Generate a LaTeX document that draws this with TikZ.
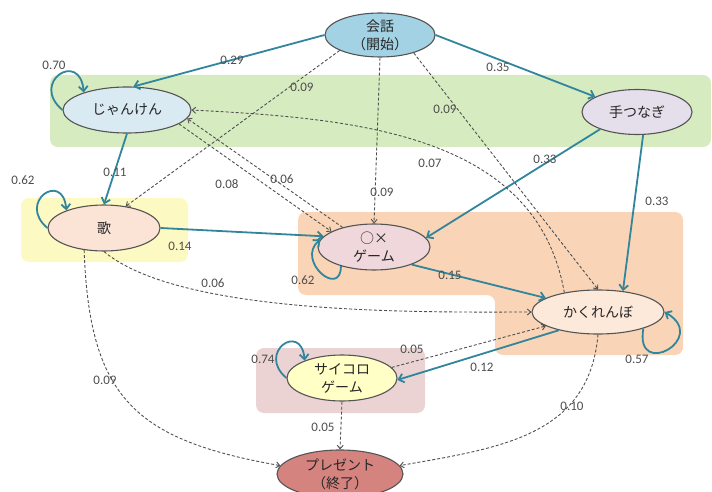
\documentclass[tikz,border=0pt]{standalone}
\usepackage{fontspec}
\usepackage{xcolor}
\usepackage{tikz}
\usetikzlibrary{shapes.geometric,arrows.meta}
\setmainfont{Carlito}
\newfontfamily\jp{Noto Sans CJK JP}
\definecolor{flow}{HTML}{31859C}
\definecolor{rim}{HTML}{545454}
\definecolor{dep}{HTML}{505050}
\definecolor{num}{HTML}{4D4D4D}
\definecolor{ink}{HTML}{262626}
\definecolor{bggreen}{HTML}{D7EBC1}
\definecolor{bgyellow}{HTML}{FCF9C2}
\definecolor{bgorange}{HTML}{FAD4B6}
\definecolor{bgpink}{HTML}{EBD3D3}
\definecolor{fkaiwa}{HTML}{A3D2E4}
\definecolor{fjanken}{HTML}{DAEAF3}
\definecolor{ftsunagi}{HTML}{E5DFEC}
\definecolor{futa}{HTML}{FBE4D6}
\definecolor{fmaru}{HTML}{EFD7DB}
\definecolor{fkakure}{HTML}{FDE9DA}
\definecolor{fsaikoro}{HTML}{FFFFC6}
\definecolor{fpresent}{HTML}{D5837F}
\tikzset{
  st/.style={ellipse, draw=rim, line width=1.1pt, inner sep=0pt, align=center,
    text=ink, font=\jp\fontsize{14}{18}\selectfont},
  move/.style={draw=flow, line width=1.8pt, -{Straight Barb[length=5pt,width=9pt]}},
  weak/.style={draw=dep, line width=0.9pt, dash pattern=on 3pt off 2pt,
    -{Straight Barb[length=3.5pt,width=6pt]}},
  labn/.style={text=num, font=\fontsize{13}{13}\selectfont, inner sep=1pt}
}
\begin{document}
\begin{tikzpicture}[x=1pt,y=1pt]
  \useasboundingbox (0,0) rectangle (712,-492);

  \fill[bggreen, rounded corners=8pt] (50,-75) rectangle (711,-147);
  \fill[bgyellow, rounded corners=8pt] (21,-198) rectangle (188,-262);
  \fill[bgorange, rounded corners=8pt] (298,-212) -- (683,-212) -- (683,-355)
    -- (495,-355) -- (495,-295) -- (298,-295) -- cycle;
  \fill[bgpink, rounded corners=8pt] (256,-348) rectangle (425,-413);

  \node[st, fill=fkaiwa, minimum width=110, minimum height=44] (kaiwa) at (380,-35) {会話\\（開始）};
  \node[st, fill=fjanken, minimum width=128, minimum height=46] (janken) at (127,-110) {じゃんけん};
  \node[st, fill=ftsunagi, minimum width=110, minimum height=45] (tetsunagi) at (637,-112) {手つなぎ};
  \node[st, fill=futa, minimum width=112, minimum height=46] (uta) at (104,-228) {歌};
  \node[st, fill=fmaru, minimum width=112, minimum height=46] (maru) at (374,-247) {○×\\ゲーム};
  \node[st, fill=fkakure, minimum width=132, minimum height=44] (kakure) at (598,-312) {かくれんぼ};
  \node[st, fill=fsaikoro, minimum width=110, minimum height=46] (saikoro) at (342,-378) {サイコロ\\ゲーム};
  \node[st, fill=fpresent, minimum width=126, minimum height=48] (present) at (340,-474) {プレゼント\\（終了）};

  \draw[move] (kaiwa.west) -- (janken.75);
  \draw[move] (kaiwa.east) -- (tetsunagi.160);
  \draw[move] (janken.west) to[out=140, in=95, looseness=4] (janken.158);
  \draw[move] (janken.south) -- (uta.north);
  \draw[move] (uta.west) to[out=140, in=95, looseness=4] (uta.155);
  \draw[move] (uta.east) -- (maru.168);
  \draw[move] (tetsunagi.205) -- (maru.10);
  \draw[move] (tetsunagi.-75) -- (kakure.40);
  \draw[move] (maru.210) to[out=-90, in=220, looseness=2.5] (maru.172);
  \draw[move] (maru.-25) -- (kakure.165);
  \draw[move] (kakure.-20) to[out=-100, in=-30, looseness=5] (kakure.east);
  \draw[move] (kakure.205) -- (saikoro.-2);
  \draw[move] (saikoro.west) to[out=140, in=95, looseness=4] (saikoro.155);

  \draw[weak] (kaiwa.201) -- (uta.45);
  \draw[weak] (kaiwa.south) -- (maru.north);
  \draw[weak] (kaiwa.-28) -- (kakure.north);
  \draw[weak] (kakure.150) to[out=100, in=-3] (janken.east);
  \draw[weak] (janken.-15) -- (maru.160);
  \draw[weak] (maru.148) -- (janken.-8);
  \draw[weak] (uta.south) to[out=-40, in=180, looseness=0.6] (kakure.west);
  \draw[weak] (uta.228) to[out=-88, in=170, looseness=1.3] (present.172);
  \draw[weak] (saikoro.12) -- (kakure.195);
  \draw[weak] (saikoro.south) -- (present.north);
  \draw[weak] (kakure.south) to[out=-95, in=10, looseness=1.1] (present.8);

  \node[labn] (p-kaiwa-janken) at (232,-60) {0.29};
  \node[labn] (p-kaiwa-tsunagi) at (498,-67) {0.35};
  \node[labn] (p-janken) at (54,-65) {0.70};
  \node[labn] (p-kaiwa-uta) at (302,-87) {0.09};
  \node[labn] (p-kaiwa-kakure) at (445,-109) {0.09};
  \node[labn] (p-janken-uta) at (115,-172) {0.11};
  \node[labn] (p-uta) at (23,-180) {0.62};
  \node[labn] (p-janken-maru) at (227,-184) {0.08};
  \node[labn] (p-maru-janken) at (282,-179) {0.06};
  \node[labn] (p-kakure-janken) at (430,-163) {0.07};
  \node[labn] (p-tsunagi-maru) at (545,-159) {0.33};
  \node[labn] (p-kaiwa-maru) at (382,-192) {0.09};
  \node[labn] (p-tsunagi-kakure) at (657,-201) {0.33};
  \node[labn] (p-uta-maru) at (180,-246) {0.14};
  \node[labn] (p-uta-kakure) at (213,-283) {0.06};
  \node[labn] (p-maru) at (303,-280) {0.62};
  \node[labn] (p-maru-kakure) at (450,-275) {0.15};
  \node[labn] (p-saikoro-kakure) at (412,-349) {0.05};
  \node[labn] (p-kakure) at (637,-359) {0.57};
  \node[labn] (p-kakure-saikoro) at (482,-367) {0.12};
  \node[labn] (p-saikoro) at (263,-359) {0.74};
  \node[labn] (p-saikoro-present) at (323,-427) {0.05};
  \node[labn] (p-kakure-present) at (572,-406) {0.10};
  \node[labn] (p-uta-present) at (105,-380) {0.09};
\end{tikzpicture}
\end{document}
